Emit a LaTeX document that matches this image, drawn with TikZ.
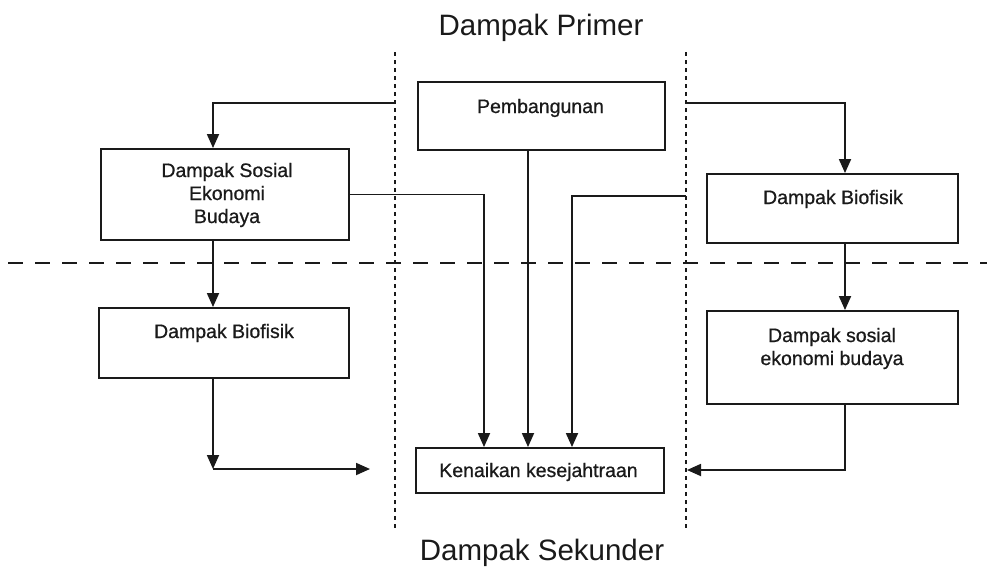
\documentclass[tikz,border=0pt]{standalone}
\usepackage{fontspec}
\setmainfont{Liberation Sans}
\newfontfamily\boxfont[FakeBold=0.7]{Liberation Sans}
\usetikzlibrary{arrows.meta}
\definecolor{ink}{HTML}{1A1A1A}
\begin{document}
\begin{tikzpicture}[x=1pt,y=-1pt,
  box/.style={draw=ink, line width=1.9pt, rectangle, inner sep=0pt},
  lbl/.style={font=\boxfont\fontsize{19.5}{23.5}\selectfont, text=ink, inner sep=0pt, anchor=base},
  ttl/.style={font=\fontsize{29.5}{34}\selectfont, text=ink, inner sep=0pt, anchor=base},
  conn/.style={draw=ink, line width=1.8pt},
  arr/.style={conn, -{Triangle[length=14pt,width=12pt]}},
  dotline/.style={draw=ink, line width=2pt, dash pattern=on 4pt off 4pt},
  dashline/.style={draw=ink, line width=2.3pt, dash pattern=on 15pt off 12pt}]
\useasboundingbox (0,0) rectangle (987,568);
\fill[white] (0,0) rectangle (987,568);

% separators
\draw[dotline] (395,52) -- (395,530);
\draw[dotline] (686,52) -- (686,530);
\draw[dashline] (8,263) -- (987,263);

% titles
\node[ttl] (tprim) at (541,35) {Dampak Primer};
\node[ttl] (tsek) at (542,560) {Dampak Sekunder};

% boxes
\node[box, minimum width=247pt, minimum height=68pt] (pem) at (541.5,116) {};
\node[box, minimum width=248pt, minimum height=91pt] (sos) at (225,194.5) {};
\node[box, minimum width=251pt, minimum height=69pt] (bioR) at (832.5,208.5) {};
\node[box, minimum width=250pt, minimum height=70pt] (bioL) at (224,343) {};
\node[box, minimum width=251pt, minimum height=93pt] (sosR) at (832.5,357.5) {};
\node[box, minimum width=248pt, minimum height=45pt] (ken) at (540,470.5) {};

% labels
\node[lbl] (pemT) at (540.5,113) {Pembangunan};
\node[lbl] (sosT1) at (227,177) {Dampak Sosial};
\node[lbl] (sosT2) at (227,200) {Ekonomi};
\node[lbl] (sosT3) at (227,223) {Budaya};
\node[lbl] (bioRT) at (833,204) {Dampak Biofisik};
\node[lbl] (bioLT) at (224,338) {Dampak Biofisik};
\node[lbl] (sosRT1) at (832,342) {Dampak sosial};
\node[lbl] (sosRT2) at (832,365) {ekonomi budaya};
\node[lbl] (kenT) at (538.5,477) {Kenaikan kesejahtraan};

% helper coordinates
\coordinate (xL) at (213,0);
\coordinate (xR) at (845,0);
\coordinate (x1) at (484,0);
\coordinate (x2) at (528,0);
\coordinate (x3) at (572,0);
\coordinate (dlA) at (395,103);
\coordinate (drA) at (686,103);
\coordinate (drB) at (686,196);
\coordinate (cL) at (213,469);
\coordinate (eL) at (370,469);
\coordinate (eR) at (687,470);

% connectors
\draw[arr] (dlA) -| (sos.north -| xL);
\draw[arr] (drA) -| (bioR.north -| xR);
\draw[arr] (sos.south -| xL) -- (bioL.north -| xL);
\draw[arr] (bioR.south -| xR) -- (sosR.north -| xR);
\draw[arr] (sos.east) -| (ken.north -| x1);
\draw[arr] (pem.south -| x2) -- (ken.north -| x2);
\draw[arr] (drB) -| (ken.north -| x3);
\draw[arr] (bioL.south -| xL) -- (cL);
\draw[arr] (cL) -- (eL);
\draw[arr] (sosR.south -| xR) |- (eR);
\end{tikzpicture}
\end{document}
